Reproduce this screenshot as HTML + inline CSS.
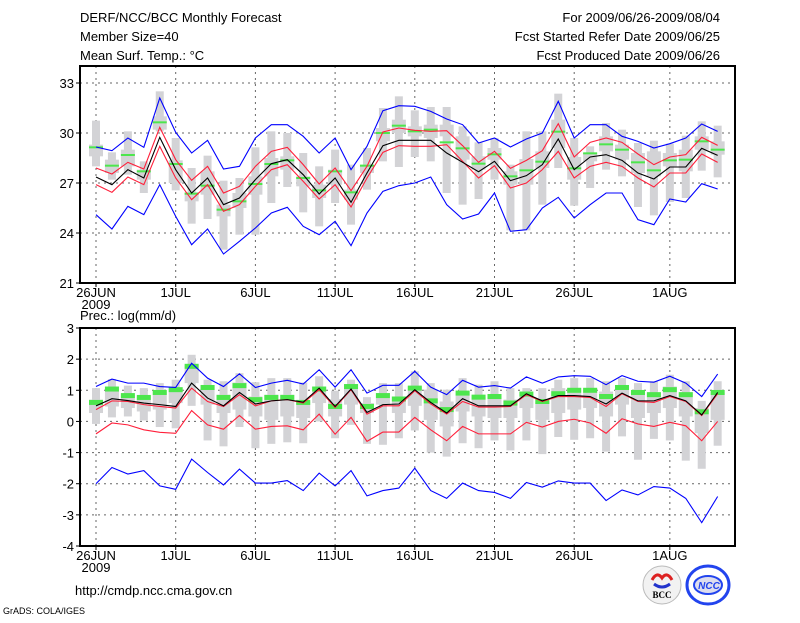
<!DOCTYPE html>
<html><head><meta charset="utf-8"><style>
body{margin:0;background:#fff;width:800px;height:618px;overflow:hidden}
svg text{font-family:"Liberation Sans",sans-serif;font-size:13px;fill:#000}
</style></head><body>
<svg id="c" width="800" height="618" xmlns="http://www.w3.org/2000/svg">
<text x="80" y="22">DERF/NCC/BCC Monthly Forecast</text>
<text x="80" y="41">Member Size=40</text>
<text x="80" y="60">Mean Surf. Temp.: °C</text>
<text x="720" y="22" text-anchor="end">For 2009/06/26-2009/08/04</text>
<text x="720" y="41" text-anchor="end">Fcst Started Refer Date 2009/06/25</text>
<text x="720" y="60" text-anchor="end">Fcst Produced Date 2009/06/26</text>
<text x="80" y="320">Prec.: log(mm/d)</text>
<text x="75" y="595">http://cmdp.ncc.cma.gov.cn</text>
<text x="3" y="614" style="font-size:9px">GrADS: COLA/IGES</text>
<g>
<circle cx="662" cy="585" r="19" fill="#f2f2f2" stroke="#bbb"/>
<path d="M652 580 q5 -9 10 -2 q5 -7 10 2" fill="none" stroke="#d22" stroke-width="3"/>
<path d="M654 584 q8 6 16 0" fill="none" stroke="#23c" stroke-width="3"/>
<text x="662" y="598" text-anchor="middle" style="font-size:9px;font-weight:bold;font-family:'Liberation Serif',serif">BCC</text>
</g>
<g>
<ellipse cx="708" cy="585" rx="21" ry="19" fill="#fff" stroke="#24e" stroke-width="3"/>
<ellipse cx="708" cy="585" rx="14" ry="9" fill="#dde" stroke="#24e" stroke-width="2"/>
<text x="709" y="589" text-anchor="middle" style="font-size:10px;font-weight:bold;font-style:italic;fill:#24e">NCC</text>
</g>
</svg>
<script>
// ---- Temperature panel data ----
const tMean=[27.36,26.9,27.8,27.3,29.74,27.8,26.4,27.3,25.7,26.1,27.2,28.16,28.4,27.5,26.34,27.3,25.84,27.6,29.24,29.56,29.56,29.56,28.8,28.24,27.68,28.3,27.14,27.44,28.1,29.64,27.8,28.56,28.7,28.36,27.6,27.24,27.96,27.96,29.08,28.66];
const tRedHi=[27.9,27.54,28.24,27.84,30.34,28.4,27.16,28.0,26.4,26.8,28.0,28.9,29.14,28.1,26.94,27.9,26.54,28.0,30.06,30.3,30.16,30.1,30.14,29.24,28.24,28.9,27.88,28.36,28.94,30.56,28.56,29.44,29.7,29.44,28.74,28.1,28.56,28.7,29.74,29.26];
const tRedLo=[26.9,26.44,27.36,26.9,29.2,27.3,26.0,26.9,25.3,25.7,26.8,27.8,28.1,27.1,26.04,26.9,25.56,27.3,28.84,29.24,29.2,29.2,29.3,28.3,27.3,28.04,26.7,27.0,27.8,28.9,27.3,28.0,28.24,28.0,27.3,26.76,27.6,27.6,28.74,28.24];
const tBlueHi=[29.16,28.94,29.7,29.14,32.1,30.04,28.8,29.56,27.84,28.0,29.7,30.5,30.5,29.8,28.8,29.7,27.8,29.2,31.34,31.64,31.6,31.3,30.84,30.5,29.4,29.7,29.16,29.64,30.0,31.9,29.7,30.5,30.5,29.8,29.5,29.1,29.36,29.7,30.54,30.1];
const tBlueLo=[25.1,24.24,25.6,25.1,26.9,25.0,23.3,24.24,22.74,23.5,24.3,25.2,25.54,24.4,23.9,24.7,23.24,25.2,26.5,26.84,27.0,27.36,25.7,24.84,25.14,26.4,24.1,24.2,25.5,26.14,24.9,25.7,26.4,26.4,24.8,24.5,26.04,25.86,26.96,26.64];
const tMedian=[29.14,28.04,28.68,27.7,30.64,28.14,26.36,26.84,25.4,25.9,26.94,28.14,28.36,27.3,26.56,27.7,26.44,28.04,30.0,30.44,30.1,30.2,29.44,29.08,28.16,28.72,27.4,27.76,28.28,30.08,27.88,28.78,29.32,29.0,28.24,27.76,28.36,28.4,29.5,29.0];
const tMax=[30.74,28.84,30.1,28.3,32.5,29.7,27.9,28.64,27.14,27.3,29.14,30.1,30.0,28.8,28.0,29.0,28.1,29.1,31.5,32.2,31.36,31.56,31.56,30.4,29.44,29.7,28.1,30.1,30.1,32.36,29.7,29.2,30.6,30.2,29.4,29.54,29.36,29.84,30.7,30.44];
const tQ3=[29.3,28.4,29.0,27.8,31.0,28.36,26.44,27.7,25.7,26.4,27.4,28.5,28.6,27.4,26.9,27.8,26.6,28.1,30.3,30.8,30.4,30.5,30.5,29.8,28.6,29.1,27.7,28.44,28.9,30.8,28.56,28.8,29.8,29.3,28.8,28.9,28.8,29.0,29.8,29.5];
const tQ1=[28.6,27.6,28.0,27.2,30.2,27.0,25.9,26.3,25.0,25.5,26.3,27.4,27.8,26.8,26.1,26.9,26.0,27.6,29.5,30.0,29.8,29.7,29.8,28.4,27.8,28.4,26.9,26.9,27.9,29.1,27.2,28.3,28.9,28.4,27.6,27.4,28.0,27.7,29.0,28.7];
const tMin=[28.0,27.2,27.5,26.4,30.1,26.56,24.56,24.84,23.0,23.9,23.9,25.8,26.76,25.24,24.4,25.8,24.5,26.6,28.3,27.96,28.56,28.3,26.4,25.7,26.04,27.2,24.16,24.16,25.7,27.9,25.64,26.7,27.8,27.4,25.56,25.06,25.86,26.1,27.74,27.34];
const tTicks=[21,24,27,30,33];
// ---- Precipitation panel data ----
const pMean=[0.50,0.73,0.67,0.59,0.54,0.48,1.23,0.75,0.50,0.93,0.56,0.66,0.70,0.62,1.07,0.48,1.04,0.29,0.54,0.56,1.02,0.61,0.27,0.73,0.50,0.50,0.50,0.89,0.66,0.83,0.83,0.80,0.56,0.91,0.66,0.66,0.83,0.66,0.21,0.93];
const pRedHi=[0.38,0.66,0.64,0.54,0.48,0.43,1.07,0.64,0.48,0.86,0.50,0.66,0.70,0.59,1.02,0.45,1.02,0.235,0.50,0.50,0.985,0.56,0.235,0.64,0.46,0.46,0.48,0.86,0.64,0.80,0.80,0.77,0.48,0.89,0.64,0.61,0.80,0.64,0.19,0.89];
const pRedLo=[-0.40,-0.05,-0.11,-0.27,-0.35,-0.38,0.35,-0.11,-0.25,0.19,-0.25,-0.16,-0.14,-0.27,0.235,-0.41,0.13,-0.64,-0.34,-0.34,0.13,-0.27,-0.62,-0.16,-0.40,-0.40,-0.40,-0.03,-0.18,0.00,0.07,-0.05,-0.38,0.085,-0.08,-0.16,-0.03,-0.14,-0.62,0.00];
const pBlueHi=[1.12,1.36,1.23,1.23,1.12,1.09,1.87,1.39,1.12,1.53,1.09,1.23,1.32,1.20,1.66,1.10,1.66,0.91,1.16,1.16,1.61,1.10,0.86,1.32,1.10,1.15,1.07,1.43,1.23,1.43,1.47,1.45,1.18,1.47,1.29,1.26,1.45,1.23,0.80,1.52];
const pBlueLo=[-2.00,-1.48,-1.69,-1.58,-2.07,-2.18,-1.21,-1.64,-2.04,-1.53,-1.98,-1.98,-1.90,-2.22,-1.66,-2.07,-1.58,-2.39,-2.22,-2.14,-1.50,-2.22,-2.47,-1.98,-2.22,-2.28,-2.47,-1.96,-2.11,-1.91,-1.98,-1.98,-2.54,-2.20,-2.36,-2.09,-2.14,-2.47,-3.25,-2.41];
const pMedian=[0.61,1.04,0.83,0.77,0.93,1.02,1.77,1.09,0.77,1.15,0.70,0.77,0.77,0.61,1.04,0.48,1.12,0.48,0.83,0.72,1.07,0.66,0.38,0.91,0.78,0.80,0.59,0.88,0.64,0.89,1.0,1.0,0.80,1.09,0.93,0.86,1.02,0.86,0.31,0.93];
const pMax=[1.07,1.36,1.15,1.07,1.23,1.34,2.14,1.34,1.29,1.55,1.26,1.39,1.39,1.25,1.45,0.985,1.34,0.78,1.23,1.23,1.61,1.23,1.02,1.39,1.18,1.29,1.07,1.07,1.07,1.34,1.39,1.39,1.29,1.39,1.23,1.29,1.50,1.29,0.66,1.29];
const pQ3=[0.70,1.12,0.86,0.80,0.96,1.02,1.82,1.15,0.86,1.25,0.80,0.86,0.86,0.64,1.12,0.72,1.18,0.59,0.91,0.80,1.12,1.02,0.64,0.96,0.80,0.86,0.70,0.80,0.64,1.07,1.07,1.07,0.96,1.12,0.96,0.93,1.12,0.93,0.43,0.93];
const pQ1=[0.27,0.48,0.43,0.32,0.38,0.59,1.23,0.54,0.27,0.38,0.16,0.05,0.16,0.11,0.59,0.16,0.54,0.27,0.54,0.27,0.50,0.05,-0.16,0.32,0.16,0.11,0.11,0.43,0.05,0.27,0.38,0.43,0.16,0.54,0.11,0.27,0.43,0.16,-0.38,0.05];
const pMin=[-0.08,0.13,0.16,0.03,-0.18,-0.22,0.50,-0.61,-0.80,-0.18,-0.86,-0.72,-0.67,-0.70,0.00,-0.54,-0.11,-0.72,-0.75,-0.54,-0.29,-1.00,-1.13,-0.70,-0.86,-0.61,-0.93,-0.61,-1.05,-0.50,-0.59,-0.54,-0.97,-0.48,-1.23,-0.56,-0.61,-1.26,-1.52,-0.78];
const pTicks=[-4,-3,-2,-1,0,1,2,3];
const dateLabels=["26JUN","1JUL","6JUL","11JUL","16JUL","21JUL","26JUL","1AUG"];
const dateIndex=[0,5,10,15,20,25,30,36];

const NS="http://www.w3.org/2000/svg";
const svg=document.getElementById('c');
const X0=80,X1=735,DX=15.94,XD0=96;
const xd=i=>XD0+i*DX;
function mk(t,a,p){const e=document.createElementNS(NS,t);for(const k in a)e.setAttribute(k,a[k]);(p||svg).appendChild(e);return e;}
function panel(name,top,bot,vTop,vBot,ticks,d){
  const y=v=>top+(vTop-v)/(vTop-vBot)*(bot-top);
  const g=mk('g',{});
  
  
  ticks.forEach(t=>{
    if(t>vBot&&t<vTop){const l=mk('line',{x1:X0,x2:X1,y1:y(t),y2:y(t),stroke:'#666','stroke-dasharray':'2,4','stroke-width':1},g);
    
    }
    const tk=mk('line',{x1:X0-4,x2:X0,y1:y(t),y2:y(t),stroke:'#000'},g);
    
    
    const tx=mk('text',{x:X0-6,y:y(t)+5,'text-anchor':'end'},g);tx.textContent=t;
    
    
  });
  dateIndex.forEach((di,k)=>{
    const x=xd(di);
    const l=mk('line',{x1:x,x2:x,y1:top,y2:bot,stroke:'#666','stroke-dasharray':'2,4'},g);
    
    
    const tk=mk('line',{x1:x,x2:x,y1:bot,y2:bot+4,stroke:'#000'},g);
    
    
    const tx=mk('text',{x:x,y:bot+14,'text-anchor':'middle'},g);tx.textContent=dateLabels[k];
    
    
  });
  const yr=mk('text',{x:xd(0),y:bot+26,'text-anchor':'middle'},g);yr.textContent='2009';
  
  
  d.mx.forEach((m,i)=>{
    const x=xd(i);
    const w=mk('rect',{x:x-4,y:y(m),width:8,height:y(d.mn[i])-y(m),fill:'#d3d3d6'},g);
    
    
    const b=mk('rect',{x:x-7,y:y(d.q3[i]),width:14,height:y(d.q1[i])-y(d.q3[i]),fill:'#d3d3d6'},g);
    
    
  });
  d.md.forEach((m,i)=>{
    const r=mk('rect',{x:xd(i)-7,y:y(m)-d.gh/2,width:14,height:d.gh,fill:'#4de64d'},g);
    
    
  });
  [[d.bl,'#0000ff','min-line'],[d.bh,'#0000ff','max-line'],[d.rl,'#ff1f3a','lower-std-line'],[d.rh,'#ff1f3a','upper-std-line'],[d.me,'#000','mean-line']].forEach(([arr,c,n])=>{
    const p=mk('polyline',{points:arr.map((v,i)=>xd(i)+','+y(v)).join(' '),fill:'none',stroke:c,'stroke-width':1.1},g);
    
    
  });
  const f=mk('rect',{x:X0,y:top,width:X1-X0,height:bot-top,fill:'none',stroke:'#000','stroke-width':2},g);
  
  
}
panel('temperature-panel',66,283,34.02,21,tTicks,{me:tMean,rh:tRedHi,rl:tRedLo,bh:tBlueHi,bl:tBlueLo,md:tMedian,mx:tMax,q3:tQ3,q1:tQ1,mn:tMin,gh:2});
panel('precipitation-panel',328,546,3,-4,pTicks,{me:pMean,rh:pRedHi,rl:pRedLo,bh:pBlueHi,bl:pBlueLo,md:pMedian,mx:pMax,q3:pQ3,q1:pQ1,mn:pMin,gh:5});
</script>
</body></html>
